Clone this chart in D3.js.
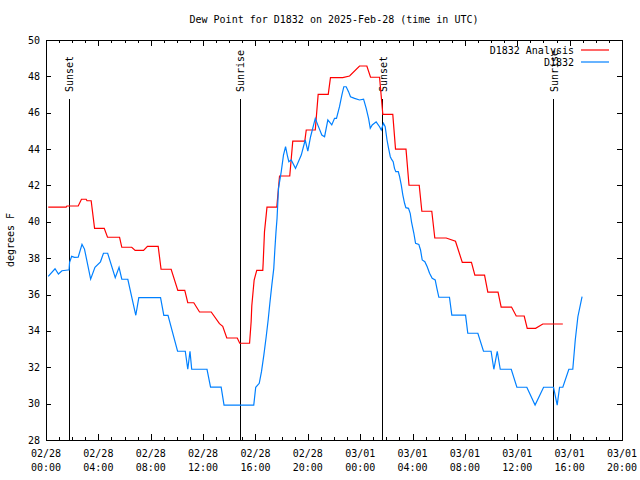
<!DOCTYPE html>
<html><head><meta charset="utf-8">
<script src="https://cdn.jsdelivr.net/npm/d3@7"></script>
<style>body{margin:0;background:#fff}</style></head>
<body>
<svg id="c" width="640" height="480"></svg>
<script>
// ---- data ----
const titleText = "Dew Point for D1832 on 2025-Feb-28 (time in UTC)";
const yLabel = "degrees F";
const seriesNames = ["D1832 Analysis", "D1832"];
const seriesColors = ["#ff0000", "#0080ff"];

const tickHours = [0, 4, 8, 12, 16, 20, 24, 28, 32, 36, 40, 44];
const tickDates = ["02/28","02/28","02/28","02/28","02/28","02/28","03/01","03/01","03/01","03/01","03/01","03/01"];
const tickTimes = ["00:00","04:00","08:00","12:00","16:00","20:00","00:00","04:00","08:00","12:00","16:00","20:00"];
const yTicks = [28, 30, 32, 34, 36, 38, 40, 42, 44, 46, 48, 50];

const sunLabels = ["Sunset", "Sunrise", "Sunset", "Sunrise"];
const sunHours = [1.77, 14.84, 25.73, 38.79];

const analysisHours = [0.17,1.54,1.6,2.46,2.71,3.07,3.13,3.45,3.71,4.45,4.7,5.62,5.79,6.55,6.81,7.45,7.75,8.57,8.79,9.56,10.07,10.6,10.83,11.29,11.73,12.62,13.25,13.5,13.81,14.61,14.8,15.55,15.67,15.72,15.83,15.9,16.0,16.1,16.56,16.59,16.69,16.82,16.88,17.63,17.84,18.62,18.85,19.77,19.88,20.57,20.79,21.56,21.73,22.67,23.19,23.95,24.51,24.79,25.48,25.73,26.49,26.7,27.5,27.73,28.51,28.71,29.47,29.7,30.57,31.28,31.8,32.5,32.76,33.5,33.75,34.53,34.77,35.56,35.92,36.53,36.76,37.4,37.95,39.48];
const analysisValues = [40.81,40.81,40.87,40.87,41.24,41.24,41.16,41.16,39.64,39.64,39.15,39.15,38.6,38.6,38.43,38.43,38.65,38.65,37.39,37.39,36.23,36.23,35.55,35.55,35.04,35.04,34.4,34.25,33.61,33.61,33.32,33.32,34.5,35.37,36.25,36.8,37.07,37.33,37.33,37.75,39.46,40.37,40.81,40.81,42.52,42.52,44.44,44.44,45.05,45.05,47.01,47.01,47.93,47.93,48.02,48.57,48.57,47.95,47.95,45.91,45.91,44.0,44.0,42.01,42.01,40.58,40.58,39.11,39.11,38.93,37.77,37.77,37.07,37.07,36.13,36.13,35.31,35.31,34.82,34.82,34.14,34.14,34.38,34.38];

const obsHours = [0.17,0.69,0.95,1.22,1.68,1.76,1.8,1.96,2.18,2.46,2.75,2.94,3.41,3.74,4.16,4.39,4.71,5.29,5.58,5.79,6.25,6.86,7.09,8.75,9.0,9.32,10.05,10.64,10.83,11.0,11.13,12.3,12.57,13.38,13.6,15.87,16.02,16.29,16.46,16.64,16.82,16.97,17.1,17.25,17.4,17.48,17.57,17.65,17.76,17.97,18.14,18.3,18.43,18.55,18.73,19.06,19.5,19.8,20.0,20.21,20.57,20.76,21.07,21.28,21.53,21.83,22.04,22.19,22.42,22.6,22.75,22.93,23.11,23.26,23.57,23.95,24.26,24.46,24.64,24.77,24.92,25.22,25.48,25.61,25.78,25.91,26.05,26.17,26.3,26.39,26.52,26.62,26.72,26.91,27.0,27.14,27.26,27.39,27.49,27.69,27.82,27.92,28.1,28.23,28.48,28.61,28.74,28.94,29.12,29.3,29.5,29.73,29.86,30.01,30.82,31.0,32.05,32.22,32.99,33.42,34.0,34.21,34.47,34.7,35.54,35.97,36.73,37.36,38.01,38.77,39.05,39.23,39.48,39.94,40.24,40.43,40.63,40.95];
const obsValues = [37.0,37.42,37.13,37.31,37.35,37.35,37.77,38.1,38.05,38.06,38.76,38.5,36.85,37.5,37.8,38.27,38.27,36.93,37.5,36.85,36.84,34.86,35.83,35.83,34.85,34.85,32.88,32.88,31.89,32.88,31.89,31.89,30.91,30.91,29.92,29.92,30.9,31.12,31.76,32.67,33.68,34.6,35.52,36.52,37.44,38.45,39.46,40.2,41.84,42.76,43.67,44.13,43.67,43.31,43.4,42.94,43.67,44.5,43.89,44.68,45.69,45.33,44.77,44.68,45.6,45.33,45.69,45.69,46.33,46.97,47.43,47.43,47.16,46.88,46.79,46.7,46.75,46.24,45.69,45.14,45.33,45.5,45.23,45.05,45.42,45.23,44.5,44.04,43.58,43.45,43.31,42.94,42.76,42.76,42.52,42.02,41.47,41.02,40.78,40.74,40.47,40.0,39.37,38.82,38.76,38.45,37.9,37.81,37.53,37.17,36.89,36.8,36.34,35.85,35.85,34.87,34.87,33.87,33.87,32.88,32.88,31.89,32.88,31.89,31.89,30.9,30.9,29.92,30.9,30.9,29.92,30.9,30.9,31.89,31.89,33.5,34.78,35.88];

// ---- layout ----
const L = 46, R = 622, T = 40, B = 440;
const FONT = "'DejaVu Sans Mono', monospace";
const svg = d3.select("#c").style("font-family", FONT).style("font-size", "10px");
svg.append("rect").attr("width", 640).attr("height", 480).attr("fill", "#fff");

const x = d3.scaleLinear().domain([0, 44]).range([L, R]);
const y = d3.scaleLinear().domain([28, 50]).range([B, T]);

// title
svg.append("text").attr("x", (L + R) / 2).attr("y", 23).attr("text-anchor", "middle")
  .attr("fill", "#000").text(titleText);

// y label
svg.append("text").attr("transform", `translate(14,${(T + B) / 2}) rotate(-90)`)
  .attr("text-anchor", "middle").attr("fill", "#000").text(yLabel);

// axes ticks (inward, mirrored)
function clean(g) { g.select(".domain").remove(); g.selectAll("text").remove(); g.selectAll("line").attr("stroke", "#000"); }
const minorHours = d3.range(0, 45, 1);
svg.append("g").attr("transform", `translate(0,${B})`).attr("shape-rendering", "crispEdges")
  .call(d3.axisBottom(x).tickValues(minorHours).tickSize(-3)).call(clean);
svg.append("g").attr("transform", `translate(0,${T})`).attr("shape-rendering", "crispEdges")
  .call(d3.axisTop(x).tickValues(minorHours).tickSize(-3)).call(clean);
svg.append("g").attr("transform", `translate(0,${B})`).attr("shape-rendering", "crispEdges")
  .call(d3.axisBottom(x).tickValues(tickHours).tickSize(-6)).call(clean);
svg.append("g").attr("transform", `translate(0,${T})`).attr("shape-rendering", "crispEdges")
  .call(d3.axisTop(x).tickValues(tickHours).tickSize(-6)).call(clean);
svg.append("g").attr("transform", `translate(${L},0)`).attr("shape-rendering", "crispEdges")
  .call(d3.axisLeft(y).tickValues(yTicks).tickSize(-5)).call(clean);
svg.append("g").attr("transform", `translate(${R},0)`).attr("shape-rendering", "crispEdges")
  .call(d3.axisRight(y).tickValues(yTicks).tickSize(-5)).call(clean);

// y tick labels
svg.append("g").selectAll("text").data(yTicks).join("text")
  .attr("x", L - 6).attr("y", d => y(d)).attr("dy", "0.35em").attr("text-anchor", "end")
  .attr("fill", "#000").text(d => d);

// x tick labels (two lines)
const xl = svg.append("g").selectAll("text").data(tickHours).join("text")
  .attr("text-anchor", "middle").attr("fill", "#000");
xl.append("tspan").attr("x", d => x(d)).attr("y", 457).text((d, i) => tickDates[i]);
xl.append("tspan").attr("x", d => x(d)).attr("y", 471).text((d, i) => tickTimes[i]);

// border
svg.append("rect").attr("x", L).attr("y", T).attr("width", R - L).attr("height", B - T)
  .attr("fill", "none").attr("stroke", "#000").attr("shape-rendering", "crispEdges");

// sunrise / sunset markers
const sg = svg.append("g");
sg.selectAll("line").data(sunHours).join("line")
  .attr("x1", d => x(d)).attr("x2", d => x(d)).attr("y1", 99).attr("y2", B)
  .attr("stroke", "#000").attr("shape-rendering", "crispEdges");
sg.selectAll("text").data(sunHours).join("text")
  .attr("transform", d => `translate(${x(d) + 4},92) rotate(-90)`)
  .attr("fill", "#000").text((d, i) => sunLabels[i]);

// series
const line = d3.line().x(d => x(d[0])).y(d => y(d[1]));
const analysis = analysisHours.map((h, i) => [h, analysisValues[i]]);
const obs = obsHours.map((h, i) => [h, obsValues[i]]);
svg.append("path").datum(analysis).attr("d", line).attr("fill", "none")
  .attr("stroke", seriesColors[0]).attr("stroke-width", 1.2);
svg.append("path").datum(obs).attr("d", line).attr("fill", "none")
  .attr("stroke", seriesColors[1]).attr("stroke-width", 1.2);

// legend
const lg = svg.append("g");
seriesNames.forEach((n, i) => {
  const ly = 50 + i * 12;
  lg.append("text").attr("x", 574).attr("y", ly).attr("dy", "0.35em").attr("text-anchor", "end")
    .attr("fill", "#000").text(n);
  lg.append("line").attr("x1", 581).attr("x2", 609).attr("y1", ly).attr("y2", ly)
    .attr("stroke", seriesColors[i]).attr("stroke-width", 1.2);
});
</script>
</body></html>
